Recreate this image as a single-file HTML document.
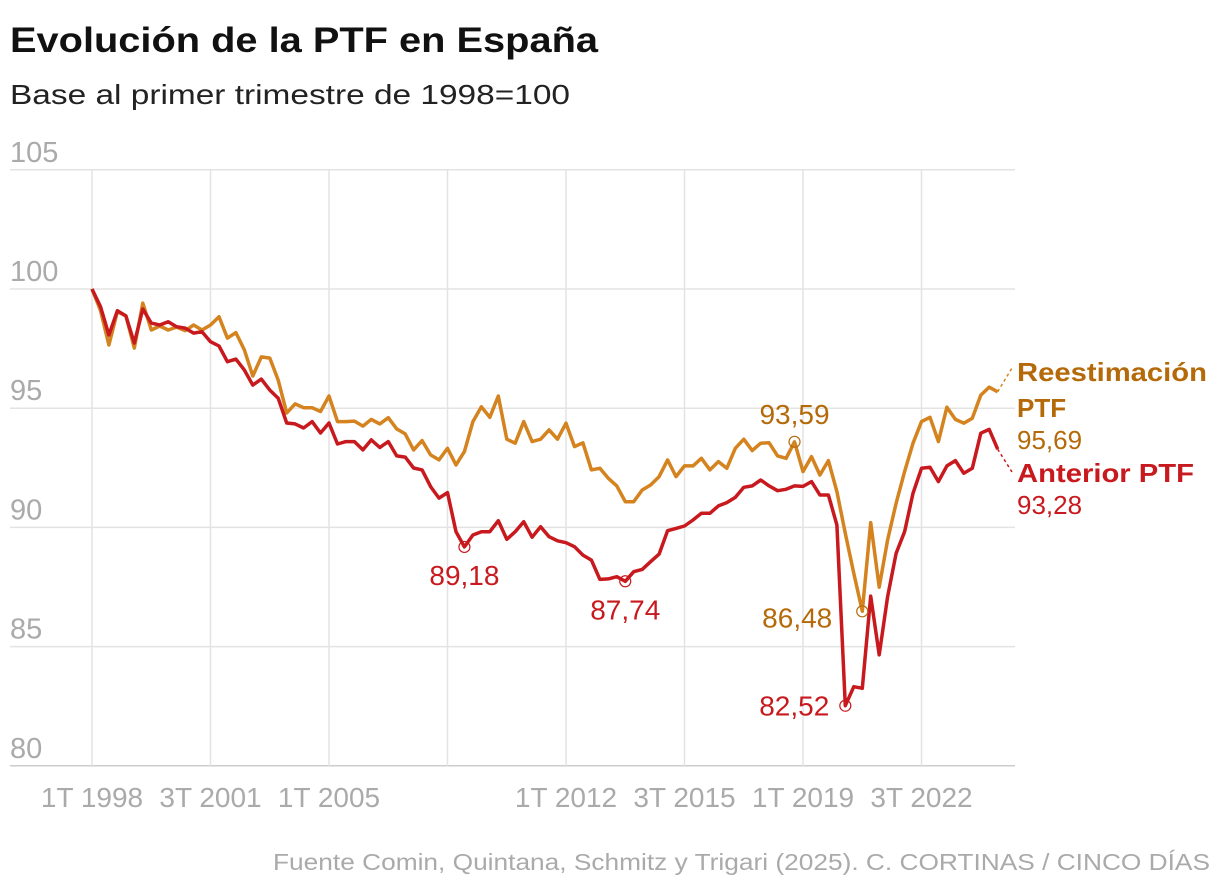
<!DOCTYPE html>
<html><head><meta charset="utf-8"><style>
html,body{margin:0;padding:0;background:#fff;}
svg{display:block;font-family:"Liberation Sans",sans-serif;}
</style></head><body>
<svg id="chart" width="1220" height="892" viewBox="0 0 1220 892">
<text x="10" y="52" font-size="35" font-weight="bold" fill="#111" textLength="588" lengthAdjust="spacingAndGlyphs">Evolución de la PTF en España</text>
<text x="10" y="104" font-size="28" fill="#222" textLength="560" lengthAdjust="spacingAndGlyphs">Base al primer trimestre de 1998=100</text>
<g id="grid"></g>
<g id="marks"></g>
<g id="labels"></g>
<text x="1210" y="870" font-size="23" fill="#aaa" text-anchor="end" textLength="937" lengthAdjust="spacingAndGlyphs">Fuente Comin, Quintana, Schmitz y Trigari (2025). C. CORTINAS / CINCO DÍAS</text>
</svg>
<script>
const yTicks = [80, 85, 90, 95, 100, 105];
const xTickIdx = [0, 14, 28, 42, 56, 70, 84, 98];
const xTickLabels = ["1T 1998", "3T 2001", "1T 2005", "", "1T 2012", "3T 2015", "1T 2019", "3T 2022"];
const reest = [100,99.1,97.65,99.05,98.87,97.52,99.41,98.28,98.45,98.28,98.4,98.25,98.49,98.28,98.49,98.84,97.94,98.17,97.44,96.35,97.15,97.1,96.18,94.8,95.18,95.02,95.02,94.86,95.51,94.44,94.44,94.46,94.25,94.53,94.34,94.6,94.13,93.92,93.25,93.64,93.04,92.83,93.32,92.62,93.18,94.44,95.06,94.62,95.51,93.7,93.53,94.44,93.6,93.7,94.09,93.7,94.37,93.39,93.55,92.41,92.48,92.06,91.74,91.08,91.08,91.57,91.78,92.13,92.83,92.13,92.58,92.58,92.9,92.41,92.76,92.48,93.32,93.7,93.22,93.53,93.55,93,92.9,93.59,92.34,92.97,92.2,92.8,91.5,89.75,88.07,86.48,90.2,87.49,89.47,91.01,92.34,93.53,94.44,94.62,93.6,95.04,94.53,94.37,94.58,95.55,95.88,95.69];
const anterior = [100,99.26,98.07,99.09,98.87,97.73,99.16,98.57,98.49,98.63,98.42,98.36,98.15,98.21,97.79,97.61,96.95,97.06,96.6,95.97,96.22,95.76,95.42,94.38,94.34,94.17,94.44,93.96,94.38,93.5,93.6,93.6,93.25,93.67,93.35,93.6,93,92.95,92.49,92.41,91.71,91.23,91.46,89.82,89.18,89.68,89.82,89.82,90.28,89.5,89.82,90.24,89.59,90.03,89.61,89.44,89.36,89.19,88.84,88.63,87.82,87.84,87.93,87.74,88.14,88.24,88.56,88.88,89.86,89.96,90.06,90.31,90.59,90.59,90.9,91.04,91.26,91.68,91.74,91.99,91.74,91.54,91.6,91.74,91.72,91.92,91.36,91.36,90.1,82.52,83.32,83.25,87.12,84.65,87.09,88.91,89.82,91.43,92.48,92.52,91.92,92.58,92.8,92.27,92.48,93.95,94.11,93.28];
const annotIdx = [44, 63, 83, 91, 89];
const annotVals = ["89,18", "87,74", "93,59", "86,48", "82,52"];
const annotSeries = ["anterior", "anterior", "reest", "reest", "anterior"];

const NS = "http://www.w3.org/2000/svg";
const X = i => 92 + i * 8.4643;
const Y = v => 289 - (v - 100) * 23.84;
function mk(tag, attrs, parent, text) {
  const e = document.createElementNS(NS, tag);
  for (const k in attrs) e.setAttribute(k, attrs[k]);
  if (text !== undefined) e.textContent = text;
  parent.appendChild(e);
  return e;
}
const grid = document.getElementById('grid');
const marks = document.getElementById('marks');
const labels = document.getElementById('labels');

yTicks.forEach(t => {
  const l = mk('line', {x1: 10, x2: 1015, y1: Y(t), y2: Y(t), stroke: t === 80 ? '#ccc' : '#e3e3e3', 'stroke-width': 1.5}, grid);
  
  
  const tx = mk('text', {x: 10, y: Y(t) - 8, 'font-size': 29, fill: '#aaa'}, grid, String(t));
  
  
});
xTickIdx.forEach((idx, k) => {
  const l = mk('line', {x1: X(idx), x2: X(idx), y1: Y(105), y2: Y(80), stroke: '#e3e3e3', 'stroke-width': 1.5}, grid);
  
  
  if (xTickLabels[k]) {
    const tx = mk('text', {x: X(idx), y: 807, 'font-size': 28, fill: '#aaa', 'text-anchor': 'middle'}, grid, xTickLabels[k]);
    
    
  }
});

function line(data, color, name) {
  const d = data.map((v, i) => (i ? 'L' : 'M') + X(i).toFixed(1) + ',' + Y(v).toFixed(1)).join('');
  const p = mk('path', {d: d, fill: 'none', stroke: color, 'stroke-width': 3.5, 'stroke-linejoin': 'round'}, marks);
  
  
}
line(reest, '#d4831f', 'reestimacion-line');
line(anterior, '#c8191e', 'anterior-line');

const lastI = reest.length - 1;
const d1 = mk('line', {x1: X(lastI), y1: Y(reest[lastI]), x2: 1012, y2: 368, stroke: '#d4831f', 'stroke-width': 1.5, 'stroke-dasharray': '3,3'}, marks);


const d2 = mk('line', {x1: X(lastI), y1: Y(anterior[lastI]), x2: 1012, y2: 472, stroke: '#c8191e', 'stroke-width': 1.5, 'stroke-dasharray': '3,3'}, marks);



const offsets = [[0, 38, 'middle'], [0, 38, 'middle'], [0, -18, 'middle'], [-30, 16, 'end'], [-16, 10, 'end']];
annotIdx.forEach((idx, k) => {
  const isR = annotSeries[k] === 'reest';
  const v = isR ? reest[idx] : anterior[idx];
  const c = mk('circle', {cx: X(idx), cy: Y(v), r: 5.5, fill: 'none', stroke: isR ? '#b56a0a' : '#c8191e', 'stroke-width': 1.2}, labels);
  
  
  const o = offsets[k];
  const tx = mk('text', {x: X(idx) + o[0], y: Y(v) + o[1], 'font-size': 28, fill: isR ? '#b56a0a' : '#c8191e', 'text-anchor': o[2]}, labels, annotVals[k]);
  
  
});

const leg = [["Reestimación", 381, true, '#b56a0a', 190], ["PTF", 417, true, '#b56a0a', 0], ["95,69", 449, false, '#b56a0a', 0], ["Anterior PTF", 482, true, '#c8191e', 177], ["93,28", 514, false, '#c8191e', 0]];
leg.forEach(r => {
  const a = {x: 1017, y: r[1], 'font-size': 26, fill: r[3]};
  if (r[2]) a['font-weight'] = 'bold';
  if (r[4]) { a.textLength = r[4]; a.lengthAdjust = 'spacingAndGlyphs'; }
  const tx = mk('text', a, labels, r[0]);
  
  
});
</script>
</body></html>
